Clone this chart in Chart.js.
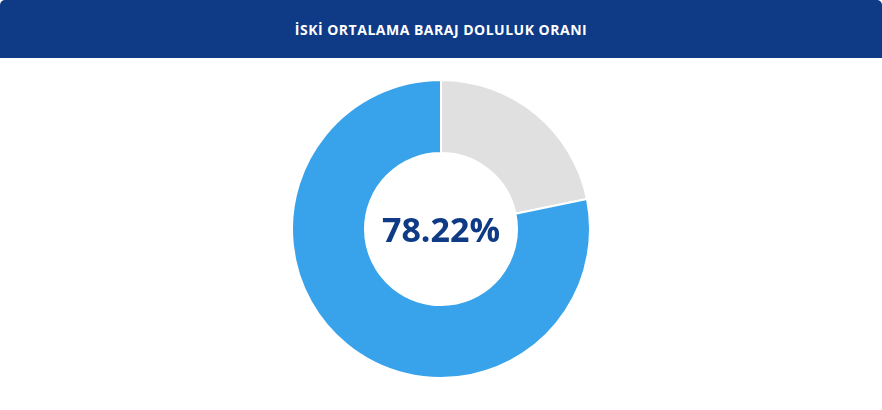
<!DOCTYPE html>
<html>
<head>
<meta charset="utf-8">
<script src="https://cdn.jsdelivr.net/npm/chart.js@4"></script>
<style>
  html, body { margin: 0; padding: 0; background: #fff; }
  .card { width: 882px; height: 410px; position: relative; overflow: hidden; }
  .head {
    height: 58px; background: #0f3a85; border-radius: 5px 5px 0 0;
    color: #fff; font: 700 14px "Open Sans", sans-serif;
    display: flex; align-items: center; justify-content: center; letter-spacing: 0.5px;
  }
  .wrap { position: absolute; left: 290px; top: 79px; width: 302px; height: 300px; }
  .center {
    position: absolute; left: 0; right: 0; top: 0; bottom: 0;
    display: flex; align-items: center; justify-content: center;
    font: 700 34px "Open Sans", sans-serif; color: #0f3a85; pointer-events: none;
  }
</style>
</head>
<body>
<div class="card">
  <div class="head">İSKİ ORTALAMA BARAJ DOLULUK ORANI</div>
  <div class="wrap">
    <canvas id="damChart"></canvas>
    <div class="center" id="centerText"></div>
  </div>
</div>
<script>
// Average dam fill rate
const labels = ["Boş", "Dolu"];
const values = [21.78, 78.22];
const colors = ["#e0e0e0", "#38a3eb"];

document.getElementById("centerText").textContent = values[1].toFixed(2) + "%";

new Chart(document.getElementById("damChart"), {
  type: "doughnut",
  data: {
    labels: labels,
    datasets: [{
      data: values,
      backgroundColor: colors,
      borderColor: "#fff",
      borderWidth: 2,
      hoverOffset: 0
    }]
  },
  options: {
    responsive: true,
    maintainAspectRatio: false,
    animation: false,
    cutout: "51%",
    layout: { padding: 0 },
    plugins: {
      legend: { display: false },
      tooltip: { enabled: false }
    }
  }
});
</script>
</body>
</html>
